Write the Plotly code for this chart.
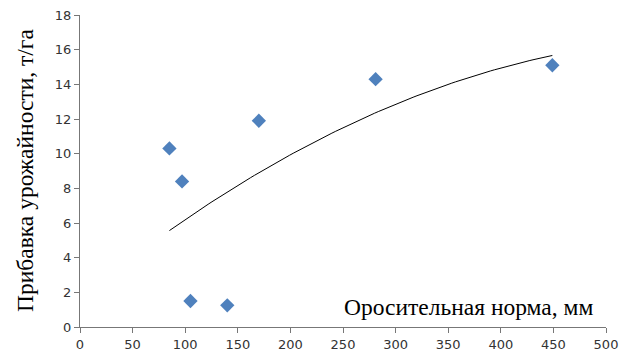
import numpy as np
import plotly.graph_objects as go

irrigation_mm = [85, 97, 105, 140, 170, 281, 449]
yield_gain = [10.3, 8.4, 1.5, 1.25, 11.9, 14.3, 15.1]
x_ticks = list(range(0, 501, 50))
y_ticks = list(range(0, 19, 2))

coef = np.polyfit(irrigation_mm, yield_gain, 2)
xt = np.linspace(min(irrigation_mm), max(irrigation_mm), 100)
yt = np.polyval(coef, xt)

fig = go.Figure()
fig.add_trace(go.Scatter(x=xt, y=yt, mode="lines",
                         line=dict(color="black", width=1), showlegend=False))
fig.add_trace(go.Scatter(x=irrigation_mm, y=yield_gain, mode="markers",
                         marker=dict(symbol="diamond", size=11, color="#4F81BD"),
                         showlegend=False))

axis_font = dict(family="DejaVu Sans", size=13, color="#333")
plot_w = 622 - 80 - 16
fig.update_layout(
    width=622, height=361,
    margin=dict(l=80, r=16, t=15, b=34),
    paper_bgcolor="white", plot_bgcolor="white",
    xaxis=dict(range=[0, 500], tickvals=x_ticks, showgrid=False, zeroline=False,
               showline=True, linecolor="#777", linewidth=1, ticks="outside",
               ticklen=5, tickcolor="#777", tickfont=axis_font, automargin=False),
    yaxis=dict(range=[0, 18], tickvals=y_ticks, showgrid=False, zeroline=False,
               showline=True, linecolor="#777", linewidth=1, ticks="outside",
               ticklen=5, tickcolor="#777", tickfont=axis_font, automargin=False),
    annotations=[
        dict(text="Оросительная норма, мм", x=1, y=0.065, xref="paper", yref="paper",
             xanchor="right", yanchor="middle", showarrow=False, xshift=-11,
             font=dict(family="Liberation Serif", size=23.5, color="black")),
        dict(text="Прибавка урожайности, т/га", x=-(80 - 25) / plot_w, y=0.5,
             xref="paper", yref="paper", xanchor="center", yanchor="middle",
             textangle=-90, showarrow=False,
             font=dict(family="Liberation Serif", size=23.5, color="black")),
    ],
)
fig.write_html("out.html", post_script="document.body.style.margin='0';",
               config={"displayModeBar": False})
